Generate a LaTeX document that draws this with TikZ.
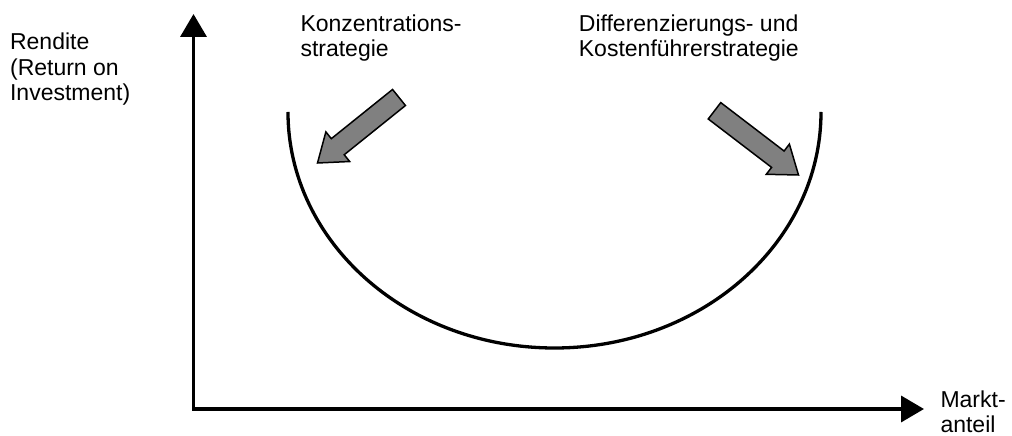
\documentclass[tikz,border=0pt]{standalone}
\usepackage{fontspec}
\setmainfont{Liberation Sans}
\usetikzlibrary{arrows.meta,calc}
\definecolor{arrowgray}{RGB}{128,128,128}
\newcommand\drawfatarrow[3]{% #1 tail, #2 tip, #3 head-base name
  \coordinate (#3) at ($(#2)!26pt!(#1)$);
  \draw[fatarrow] ($(#1)!10.3pt!90:(#2)$) -- ($(#3)!10.3pt!90:(#2)$) -- ($(#3)!19pt!90:(#2)$) -- (#2)
    -- ($(#3)!19pt!-90:(#2)$) -- ($(#3)!10.3pt!-90:(#2)$) -- ($(#1)!10.3pt!-90:(#2)$) -- cycle;}
\begin{document}
\begin{tikzpicture}[x=1pt,y=1pt,
  lbl/.style={inner sep=0pt, anchor=north west, align=left, font=\fontsize{23}{25.8}\selectfont},
  axis/.style={line width=3.6pt, line join=miter, {Triangle[length=23pt,width=26pt]}-{Triangle[length=23pt,width=26pt]}},
  ucurve/.style={line width=3.3pt},
  fatarrow/.style={fill=arrowgray, draw=black, line width=1.5pt, line join=miter}]
\useasboundingbox (0,0) rectangle (1012,436);
% axes
\coordinate (Ytip) at (193.5,422);
\coordinate (O) at (193.5,27);
\coordinate (Xtip) at (924,27);
\draw[axis] (Ytip) -- (O) -- (Xtip);
% U curve
\coordinate (Cl) at (288,324);
\draw[ucurve] (Cl) arc[start angle=180, end angle=360, x radius=266.5, y radius=236];
% arrows
\coordinate (LT) at (399,338.5);
\coordinate (LP) at (317.5,273);
\drawfatarrow{LT}{LP}{LH}
\coordinate (RT) at (714.5,325.2);
\coordinate (RP) at (798.5,261);
\drawfatarrow{RT}{RP}{RH}
% labels
\node[lbl] (rendite) at (9.9,403.5) {Rendite\\(Return on\\Investment)};
\node[lbl] (konz) at (300.3,421.8) {Konzentrations-\\strategie};
\node[lbl] (diff) at (578.7,421.8) {Differenzierungs- und\\Kostenführerstrategie};
\node[lbl] (markt) at (940.3,45.8) {Markt-\\anteil};
\end{tikzpicture}
\end{document}
